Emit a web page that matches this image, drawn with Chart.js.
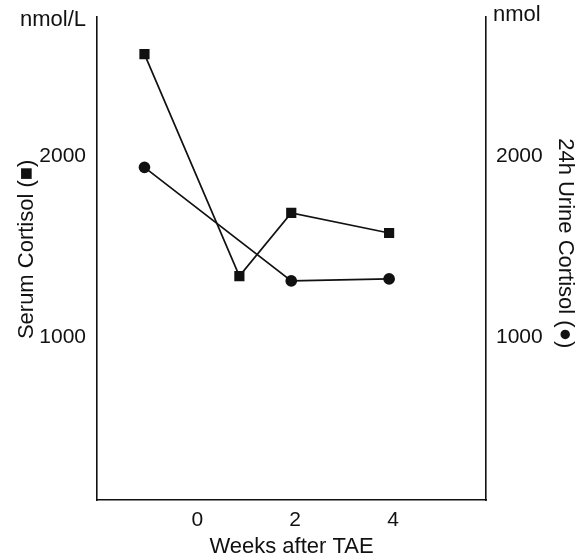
<!DOCTYPE html>
<html>
<head>
<meta charset="utf-8">
<script src="https://cdn.jsdelivr.net/npm/chart.js@4.4.1/dist/chart.umd.min.js"></script>
<style>
  html, body { margin: 0; padding: 0; background: #fff; }
  #wrap { width: 585px; height: 556px; }
</style>
</head>
<body>
<div id="wrap"><canvas id="chart"></canvas></div>
<script>
// weeks after TAE for each measurement
const serumWeeks = [-1.08, 0.86, 1.92, 3.92];
const serumCortisol = [2565, 1338, 1687, 1576];   // nmol/L (squares, left axis)
const urineWeeks = [-1.08, 1.92, 3.92];
const urineCortisol = [1939, 1311, 1322];         // nmol (circles, right axis)

const xTicks = [0, 2, 4];
const yTicks = [1000, 2000];

const FONT = '"Liberation Sans", Arial, sans-serif';
const INK = '#111';

function toPoints(xs, ys) {
    return xs.map((x, i) => ({ x: x, y: ys[i] }));
}

// unit labels above both vertical axes
const unitLabels = {
    id: 'unitLabels',
    afterDraw(chart) {
        const ctx = chart.ctx;
        const left = chart.scales.y;
        const right = chart.scales.y2;
        ctx.save();
        ctx.fillStyle = INK;
        ctx.font = '22px ' + FONT;
        ctx.textBaseline = 'middle';
        ctx.textAlign = 'right';
        ctx.fillText('nmol/L', left.right - 11, chart.chartArea.top + 3);
        ctx.textAlign = 'left';
        ctx.fillText('nmol', right.left + 7, chart.chartArea.top - 2);
        ctx.restore();
    }
};

const plainTick = v => String(v);

// fixed box size, no extra room for the end tick labels
function fixWidth(w) {
    return scale => {
        scale.width = w;
        scale.paddingTop = 0;
        scale.paddingBottom = 0;
    };
}

const ctx = document.getElementById('chart').getContext('2d');
new Chart(ctx, {
    type: 'scatter',
    data: {
        datasets: [{
            label: 'Serum Cortisol',
            data: toPoints(serumWeeks, serumCortisol),
            showLine: true,
            borderColor: INK,
            backgroundColor: INK,
            borderWidth: 1.7,
            pointStyle: 'rect',
            pointRadius: 6,
            pointHoverRadius: 6,
            yAxisID: 'y'
        }, {
            label: '24h Urine Cortisol',
            data: toPoints(urineWeeks, urineCortisol),
            showLine: true,
            borderColor: INK,
            backgroundColor: INK,
            borderWidth: 1.7,
            pointStyle: 'circle',
            pointRadius: 5,
            pointHoverRadius: 5,
            yAxisID: 'y2'
        }]
    },
    options: {
        responsive: true,
        maintainAspectRatio: false,
        animation: false,
        layout: { padding: { top: 17, left: 0, right: 0, bottom: 0 } },
        plugins: {
            legend: { display: false },
            tooltip: { enabled: false }
        },
        scales: {
            x: {
                type: 'linear',
                min: -2.05,
                max: 5.9,
                afterBuildTicks: scale => { scale.ticks = xTicks.map(v => ({ value: v })); },
                afterFit: scale => { scale.height = 56; },
                grid: { display: false, drawTicks: false },
                border: { display: true, color: INK, width: 1.6 },
                ticks: { color: INK, padding: 8, callback: plainTick, font: { family: FONT, size: 21 } },
                title: {
                    display: true,
                    text: 'Weeks after TAE',
                    color: INK,
                    padding: { top: 0, bottom: -2 },
                    font: { family: FONT, size: 22, lineHeight: 1 }
                }
            },
            y: {
                type: 'linear',
                position: 'left',
                min: 100,
                max: 2770,
                afterBuildTicks: scale => { scale.ticks = yTicks.map(v => ({ value: v })); },
                afterFit: fixWidth(97),
                grid: { display: false, drawTicks: false },
                border: { display: true, color: INK, width: 1.6 },
                ticks: { color: INK, padding: 11, callback: plainTick, font: { family: FONT, size: 21 } },
                title: {
                    display: true,
                    text: '   Serum Cortisol (\u25A0)',
                    color: INK,
                    padding: { top: 16, bottom: 0 },
                    font: { family: FONT, size: 22, lineHeight: 1 }
                }
            },
            y2: {
                type: 'linear',
                position: 'right',
                min: 100,
                max: 2770,
                afterBuildTicks: scale => { scale.ticks = yTicks.map(v => ({ value: v })); },
                afterFit: fixWidth(99),
                grid: { display: false, drawTicks: false },
                border: { display: true, color: INK, width: 1.6 },
                ticks: { color: INK, padding: 10, callback: plainTick, font: { family: FONT, size: 21 } },
                title: {
                    display: true,
                    text: '24h Urine Cortisol (\u25CF)     ',
                    color: INK,
                    padding: { top: 9, bottom: 0 },
                    font: { family: FONT, size: 22, lineHeight: 1 }
                }
            }
        }
    },
    plugins: [unitLabels]
});
</script>
</body>
</html>
